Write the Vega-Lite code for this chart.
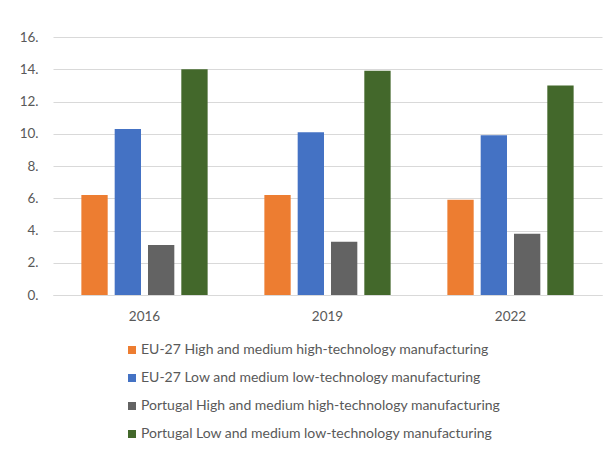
{
  "$schema": "https://vega.github.io/schema/vega-lite/v6.json",
  "width": 549,
  "height": 258,
  "autosize": "none",
  "padding": {"left": 53, "top": 37, "right": 12, "bottom": 156},
  "background": "white",
  "config": {
    "font": "Lato",
    "view": {"stroke": null},
    "axis": {"labelColor": "#595959", "labelFont": "Lato", "labelFontSize": 13.5}
  },
  "data": {
    "values": [
      {"year": "2016", "series": "EU-27 High and medium high-technology manufacturing", "value": 6.2},
      {"year": "2016", "series": "EU-27 Low and medium low-technology manufacturing", "value": 10.3},
      {"year": "2016", "series": "Portugal High and medium high-technology manufacturing", "value": 3.1},
      {"year": "2016", "series": "Portugal Low and medium low-technology manufacturing", "value": 14.0},
      {"year": "2019", "series": "EU-27 High and medium high-technology manufacturing", "value": 6.2},
      {"year": "2019", "series": "EU-27 Low and medium low-technology manufacturing", "value": 10.1},
      {"year": "2019", "series": "Portugal High and medium high-technology manufacturing", "value": 3.3},
      {"year": "2019", "series": "Portugal Low and medium low-technology manufacturing", "value": 13.9},
      {"year": "2022", "series": "EU-27 High and medium high-technology manufacturing", "value": 5.9},
      {"year": "2022", "series": "EU-27 Low and medium low-technology manufacturing", "value": 9.9},
      {"year": "2022", "series": "Portugal High and medium high-technology manufacturing", "value": 3.8},
      {"year": "2022", "series": "Portugal Low and medium low-technology manufacturing", "value": 13.0}
    ]
  },
  "mark": {"type": "bar"},
  "encoding": {
    "x": {
      "field": "year", "type": "nominal", "title": null,
      "scale": {"paddingInner": 0.31, "paddingOuter": 0.155},
      "axis": {"labelAngle": 0, "ticks": false, "domainColor": "#d9d9d9", "labelPadding": 14}
    },
    "xOffset": {
      "field": "series", "type": "nominal",
      "scale": {"paddingInner": 0.21, "paddingOuter": 0}
    },
    "y": {
      "field": "value", "type": "quantitative", "title": null,
      "scale": {"domain": [0, 16], "nice": false},
      "axis": {
        "values": [0, 2, 4, 6, 8, 10, 12, 14, 16],
        "labelExpr": "datum.value + '.'",
        "domain": false, "ticks": false, "gridColor": "#d9d9d9",
        "labelPadding": 15
      }
    },
    "color": {
      "field": "series", "type": "nominal",
      "scale": {
        "domain": [
          "EU-27 High and medium high-technology manufacturing",
          "EU-27 Low and medium low-technology manufacturing",
          "Portugal High and medium high-technology manufacturing",
          "Portugal Low and medium low-technology manufacturing"
        ],
        "range": ["#ED7D31", "#4472C4", "#636363", "#43682B"]
      },
      "legend": {
        "title": null,
        "orient": "none",
        "legendX": 72,
        "legendY": 306,
        "direction": "vertical",
        "symbolType": "square",
        "symbolSize": 64,
        "symbolStrokeWidth": 0,
        "labelFontSize": 14,
        "labelColor": "#595959",
        "labelOffset": 2,
        "rowPadding": 14,
        "labelLimit": 600
      }
    }
  }
}
